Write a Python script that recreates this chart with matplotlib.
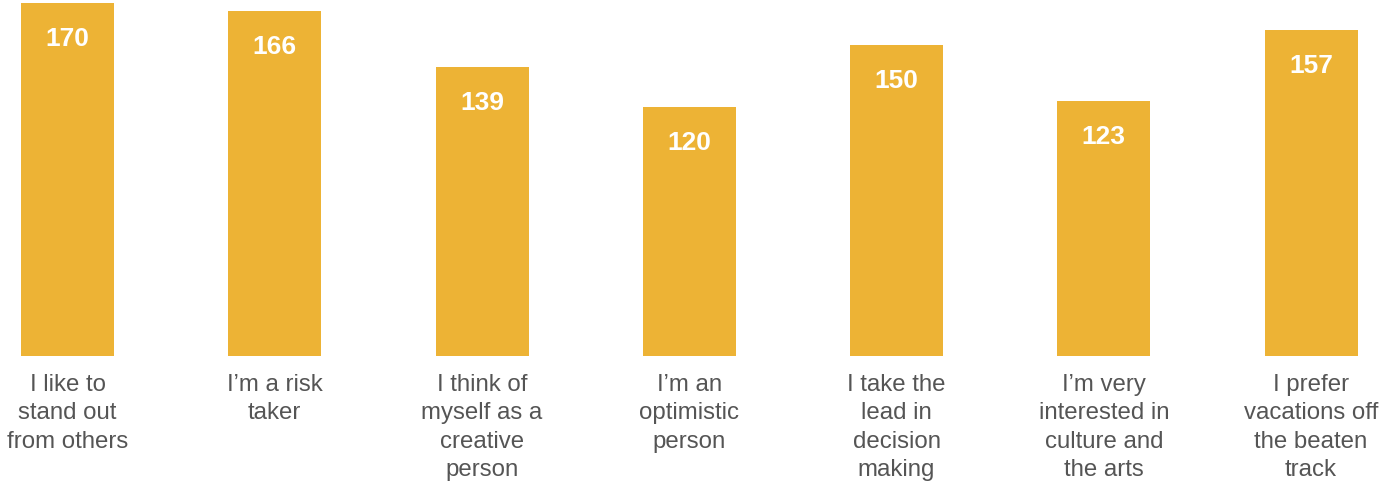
import matplotlib
matplotlib.use("Agg")
import matplotlib.pyplot as plt

categories = [
    "I like to\nstand out\nfrom others",
    "I\u2019m a risk\ntaker",
    "I think of\nmyself as a\ncreative\nperson",
    "I\u2019m an\noptimistic\nperson",
    "I take the\nlead in\ndecision\nmaking",
    "I\u2019m very\ninterested in\nculture and\nthe arts",
    "I prefer\nvacations off\nthe beaten\ntrack",
]
values = [170, 166, 139, 120, 150, 123, 157]

plt.rcParams['font.family'] = ['Liberation Sans', 'DejaVu Sans']

W, H, DPI = 1398, 489, 100
fig = plt.figure(figsize=(W / DPI, H / DPI), dpi=DPI)
bottom_px = 132
ax = fig.add_axes([0, bottom_px / H, 1, 1 - bottom_px / H])

step = 207.25
x0 = 67.5
ax.set_xlim(-x0 / step, (W - x0) / step)
px_per_unit = 353 / 170
ax.set_ylim(0, (H - bottom_px) / px_per_unit)

xs = list(range(len(values)))
ax.bar(xs, values, width=93 / step, color="#EDB335", linewidth=0)

pt = 72 / DPI
for x, v in zip(xs, values):
    ax.annotate(str(v), xy=(x, v), xytext=(0, -42 * pt), textcoords="offset points",
                ha="center", va="baseline", color="white", fontsize=19, fontweight="bold")

for x, lab in zip(xs, categories):
    ax.annotate(lab, xy=(x, 0), xycoords=("data", "axes fraction"), xytext=(0, -17 * pt),
                textcoords="offset points", ha="center", va="top", color="#555555",
                fontsize=17.3, linespacing=1.37, multialignment="center")

ax.axis("off")
fig.savefig("out.png", dpi=DPI)
